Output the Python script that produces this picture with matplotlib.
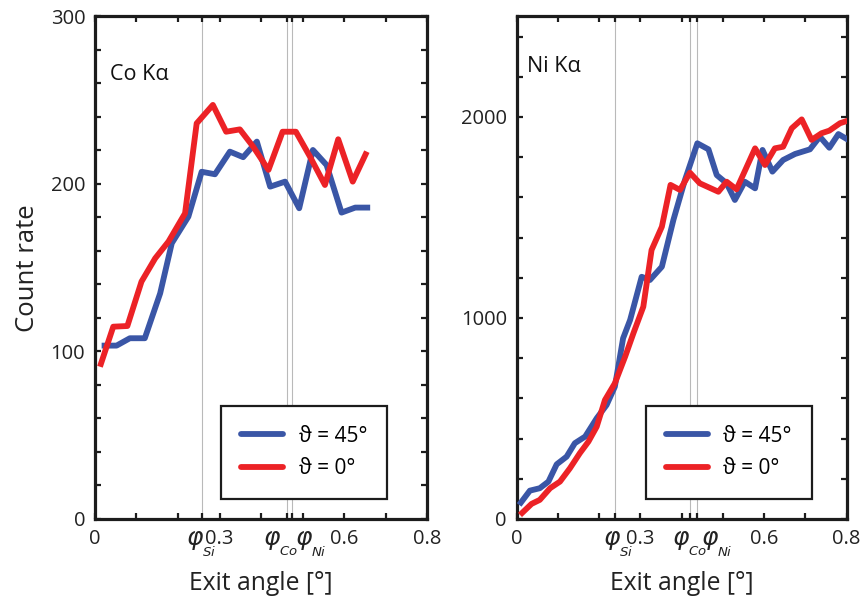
import matplotlib
matplotlib.use("Agg")
import matplotlib.pyplot as plt
from matplotlib.transforms import blended_transform_factory, ScaledTranslation

plt.rcParams['font.family'] = ['Open Sans', 'DejaVu Sans']
plt.rcParams['mathtext.fontset'] = 'dejavusans'

# ---- data: Co Ka (left panel) ----
co_x45 = [0.016, 0.052, 0.084, 0.120, 0.157, 0.185, 0.225, 0.257, 0.289, 0.325,
          0.357, 0.390, 0.422, 0.458, 0.492, 0.525, 0.558, 0.594, 0.627, 0.663]
co_y45 = [103.5, 103.5, 107.9, 107.9, 134.7, 164.6, 180.5, 207.3, 205.8, 219.3,
          216.0, 225.3, 198.4, 201.4, 185.5, 220.3, 211.3, 182.9, 185.9, 185.9]
co_x0 = [0.012, 0.044, 0.078, 0.112, 0.145, 0.177, 0.217, 0.245, 0.284, 0.316,
         0.349, 0.381, 0.418, 0.452, 0.484, 0.518, 0.554, 0.586, 0.621, 0.655]
co_y0 = [90.9, 114.8, 115.2, 141.7, 155.6, 165.6, 182.5, 236.2, 247.2, 231.2,
         232.6, 222.3, 208.4, 231.2, 231.2, 216.3, 199.4, 226.7, 201.4, 219.3]

# ---- data: Ni Ka (right panel) ----
ni_x45 = [0.006, 0.032, 0.056, 0.077, 0.097, 0.121, 0.141, 0.166, 0.194, 0.218,
          0.238, 0.258, 0.275, 0.303, 0.323, 0.352, 0.380, 0.408, 0.438, 0.465,
          0.485, 0.509, 0.529, 0.553, 0.578, 0.596, 0.620, 0.646, 0.675, 0.711,
          0.735, 0.758, 0.780, 0.808]
ni_y45 = [70, 141, 153, 186, 272, 310, 377, 410, 501, 567,
          658, 899, 990, 1205, 1189, 1255, 1488, 1687, 1869, 1839,
          1711, 1670, 1587, 1678, 1645, 1836, 1728, 1786, 1816, 1839,
          1902, 1847, 1915, 1881]
ni_x0 = [0.008, 0.036, 0.056, 0.081, 0.105, 0.129, 0.153, 0.174, 0.194, 0.214,
         0.238, 0.263, 0.283, 0.307, 0.327, 0.352, 0.373, 0.396, 0.420, 0.444,
         0.489, 0.509, 0.533, 0.578, 0.602, 0.626, 0.646, 0.667, 0.691, 0.715,
         0.739, 0.758, 0.784, 0.808]
ni_y0 = [20, 75, 95, 153, 186, 252, 327, 385, 459, 592,
         675, 808, 924, 1056, 1338, 1454, 1662, 1637, 1723, 1670,
         1628, 1678, 1640, 1844, 1761, 1844, 1852, 1944, 1988, 1886,
         1919, 1932, 1969, 1985]

# critical angles marked in each panel
phi_left = {'Si': 0.259, 'Co': 0.462, 'Ni': 0.474}
phi_right = {'Si': 0.238, 'Co': 0.420, 'Ni': 0.436}
# horizontal offset (px) of the left edge of each phi glyph from its tick
phi_dx_left = {'Si': -16, 'Co': -24, 'Ni': 3}
phi_dx_right = {'Si': -12, 'Co': -18, 'Ni': 4}

labels = ['ϑ = 45°', 'ϑ = 0°']
panel_titles = ['Co Kα', 'Ni Kα']
xlabel = 'Exit angle [°]'
ylabel = 'Count rate'

BLUE = '#3a56a6'
RED = '#ec2226'
DARK = '#1c1c1c'
TXT = '#222222'

fig = plt.figure(figsize=(8.62, 5.97), dpi=100)
axL = fig.add_axes([0.1102, 0.1307, 0.3852, 0.8417])
axR = fig.add_axes([0.5994, 0.1307, 0.3828, 0.8417])


def px(dx, dy):
    return ScaledTranslation(dx / 100.0, dy / 100.0, fig.dpi_scale_trans)


def style(ax, phis, dxs, ymax, ystep, ylabels):
    for v in phis.values():
        ax.axvline(v, color='#b9b9b9', lw=0.8, zorder=1)
    base = [0.0, 0.1, 0.2, 0.3, 0.4, 0.5, 0.6, 0.7, 0.8]
    names = {0.0: '0', 0.3: '0.3', 0.6: '0.6', 0.8: '0.8'}
    ticks = base + list(phis.values())
    labs = [names.get(t, '') for t in base] + ['' for _ in phis]
    ax.set_xticks(ticks)
    ax.set_xticklabels(labs)
    ax.set_xlim(0, 0.8)
    ax.set_ylim(0, ymax)
    yt = [i * ystep for i in range(int(round(ymax / ystep)) + 1)]
    ax.set_yticks(yt)
    ax.set_yticklabels([str(int(t)) if t in ylabels else '' for t in yt])
    ax.tick_params(direction='in', length=4, width=1.6, color=DARK,
                   top=True, right=True, labelsize=14.5, pad=7,
                   labelcolor=TXT)
    bt = blended_transform_factory(ax.transData, ax.transAxes)
    for k, v in phis.items():
        dx = dxs[k]
        ax.text(v, 0, r'$\varphi$', transform=bt + px(dx, -8),
                ha='left', va='top', fontsize=18, color=TXT, clip_on=False)
        ax.text(v, 0, r'$\mathit{%s}$' % k, transform=bt + px(dx + 16, -26),
                ha='left', va='top', fontsize=9.5, color=TXT, clip_on=False)
    for s in ax.spines.values():
        s.set_linewidth(2.3)
        s.set_color(DARK)
    ax.set_xlabel(xlabel, fontsize=17.8, color=TXT, labelpad=16)


style(axL, phi_left, phi_dx_left, 300, 20, [0, 100, 200, 300])
style(axR, phi_right, phi_dx_right, 2500, 200, [0, 1000, 2000])

for ax, (x45, y45, x0, y0) in zip(
        [axL, axR],
        [(co_x45, co_y45, co_x0, co_y0), (ni_x45, ni_y45, ni_x0, ni_y0)]):
    ax.plot(x45, y45, color=BLUE, lw=4.2, label=labels[0], zorder=3,
            solid_capstyle='butt')
    ax.plot(x0, y0, color=RED, lw=4.2, label=labels[1], zorder=4,
            solid_capstyle='butt')

axL.set_ylabel(ylabel, fontsize=18.5, color=TXT, labelpad=8)

axL.text(0.045, 0.884, panel_titles[0], transform=axL.transAxes,
         fontsize=15.5, va='center', ha='left', color='#111111')
axR.text(0.031, 0.9, panel_titles[1], transform=axR.transAxes,
         fontsize=15.5, va='center', ha='left', color='#111111')

for ax, x1 in [(axL, 0.879), (axR, 0.894)]:
    leg = ax.legend(loc='lower right', bbox_to_anchor=(x1, 0.04),
                    fontsize=15, frameon=True, fancybox=False,
                    handlelength=2.0, handletextpad=0.75, labelspacing=0.55,
                    borderpad=0.95, borderaxespad=0.0)
    fr = leg.get_frame()
    fr.set_edgecolor(DARK)
    fr.set_linewidth(1.6)
    fr.set_alpha(1)
    for h in leg.get_lines():
        h.set_solid_capstyle('round')
        h.set_linewidth(4.2)

fig.savefig('out.png', dpi=100)
